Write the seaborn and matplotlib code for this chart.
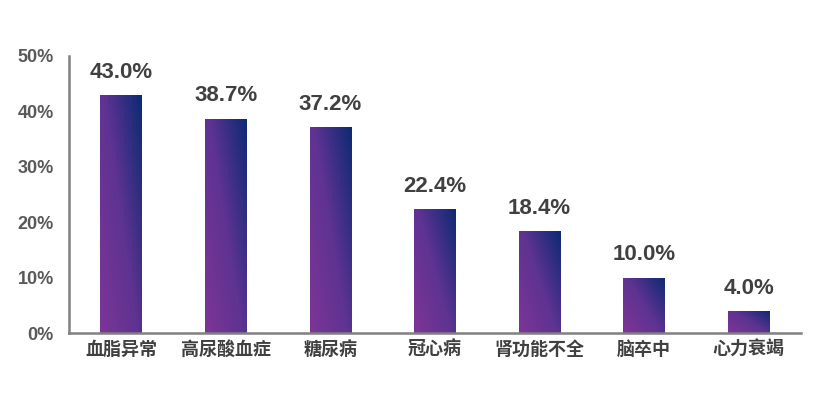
import numpy as np
import pandas as pd
import matplotlib
matplotlib.use('Agg')
import matplotlib.pyplot as plt
from matplotlib.colors import LinearSegmentedColormap
import seaborn as sb

categories = ['血脂异常', '高尿酸血症', '糖尿病', '冠心病', '肾功能不全', '脑卒中', '心力衰竭']
values = [43.0, 38.7, 37.2, 22.4, 18.4, 10.0, 4.0]
yticks = [0, 10, 20, 30, 40, 50]

sb.set_style('white')
plt.rcParams['font.family'] = ['Liberation Sans', 'Noto Sans CJK SC', 'DejaVu Sans']

df = pd.DataFrame({'cat': categories, 'val': values})

fig = plt.figure(figsize=(8.29, 4.05), dpi=100)
ax = fig.add_axes([69/829, 1 - 333/405, (801 - 69)/829, (333 - 56)/405])

sb.barplot(data=df, x='cat', y='val', ax=ax, width=0.4, color='#6a3590')

# diagonal gradient per bar: purple bottom-left -> dark blue top-right
cmap = LinearSegmentedColormap.from_list('pb', ['#7d3597', '#5e3391', '#0c2a74'])
u = np.linspace(0, 1, 64)
v = np.linspace(0, 1, 128)
U, V = np.meshgrid(u, v)
grad = 0.55 * U + 0.45 * V

for bar in ax.patches:
  x0, y0 = bar.get_x(), bar.get_y()
  w, h = bar.get_width(), bar.get_height()
  bar.set_facecolor('none')
  bar.set_edgecolor('none')
  im = ax.imshow(grad, cmap=cmap, vmin=0, vmax=1, origin='lower', aspect='auto',
                 extent=[x0, x0 + w, y0, y0 + h], zorder=2)
  im.set_clip_path(bar)

for i, val in enumerate(values):
  ax.text(i, val + 2.2, f'{val:.1f}%', ha='center', va='bottom',
          fontsize=16, fontweight='bold', color='#404040')

ax.set_xlim(-0.5, len(categories) - 0.5)
ax.set_ylim(0, 50)
ax.set_yticks(yticks)
ax.set_yticklabels([f'{t}%' for t in yticks], fontsize=13, fontweight='bold', color='#595959')
ax.set_xticks(range(len(categories)))
ax.set_xticklabels(categories, fontsize=13, fontweight='bold', color='#404040',
                   family=['Noto Sans CJK SC', 'DejaVu Sans'])
ax.set_xlabel('')
ax.set_ylabel('')
ax.tick_params(axis='both', length=0, pad=5)
ax.tick_params(axis='y', pad=11)

for side in ['top', 'right']:
  ax.spines[side].set_visible(False)
for side in ['left', 'bottom']:
  ax.spines[side].set_color('#808080')
  ax.spines[side].set_linewidth(1.8)

fig.savefig('out.png', dpi=100)
